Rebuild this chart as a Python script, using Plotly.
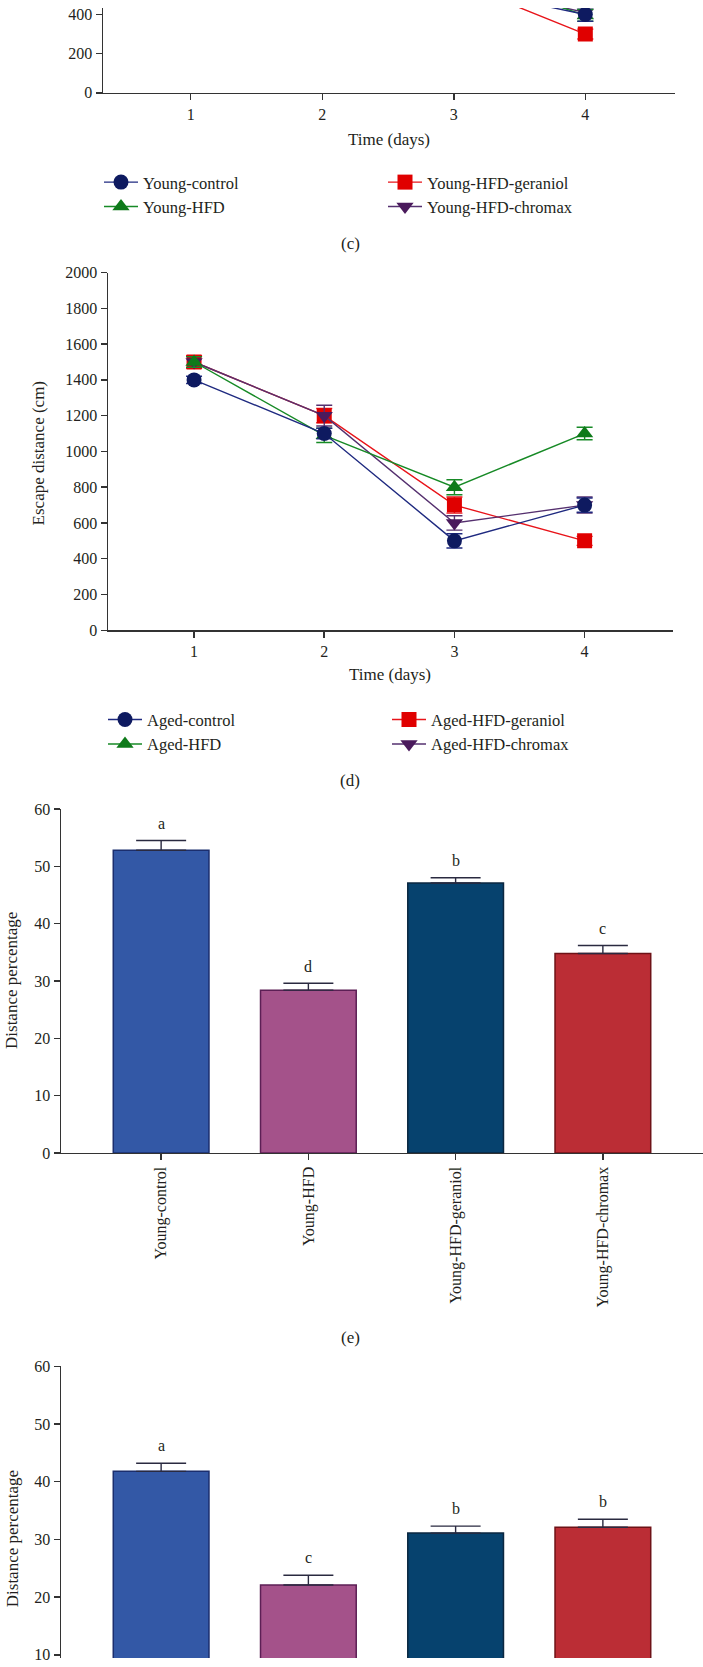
import plotly.graph_objects as go

# ---------------- data ----------------
days = [1, 2, 3, 4]

# panel (c) - young groups (escape distance, cm); only the day-4 end is visible
c_control = [1300, 1000, 540, 400]
c_control_err = [40, 40, 40, 35]
c_hfd = [1500, 1150, 620, 395]
c_hfd_err = [40, 40, 40, 30]
c_geraniol = [1450, 1100, 570, 300]
c_geraniol_err = [40, 40, 40, 25]
c_chromax = [1400, 1050, 560, 410]
c_chromax_err = [40, 40, 40, 30]

# panel (d) - aged groups
d_control = [1400, 1100, 500, 700]
d_control_err = [20, 30, 40, 40]
d_hfd = [1500, 1090, 800, 1100]
d_hfd_err = [30, 40, 42, 35]
d_geraniol = [1500, 1200, 700, 500]
d_geraniol_err = [35, 40, 45, 25]
d_chromax = [1500, 1200, 600, 700]
d_chromax_err = [30, 58, 40, 45]

# panel (e) - young groups distance percentage
e_cats = ["Young-control", "Young-HFD", "Young-HFD-geraniol", "Young-HFD-chromax"]
e_vals = [52.8, 28.4, 47.1, 34.8]
e_err = [1.7, 1.2, 0.9, 1.4]
e_letters = ["a", "d", "b", "c"]

# panel (f) - aged groups distance percentage
f_cats = ["Aged-control", "Aged-HFD", "Aged-HFD-geraniol", "Aged-HFD-chromax"]
f_vals = [41.8, 22.1, 31.1, 32.1]
f_err = [1.4, 1.7, 1.2, 1.4]
f_letters = ["a", "c", "b", "b"]

# ---------------- styles ----------------
FONT = "Liberation Serif"
TXT = "#231f20"
AX = "#333333"
W, H = 703, 1667

def py(page_y):
    return 1 - page_y / H

def px(page_x):
    return page_x / W

line_groups = [
    # key, marker symbol, marker colour, line colour, legendrank
    ("geraniol", "square", "#e00000", "#e8141a", 2),
    ("chromax", "triangle-down", "#4a1a5c", "#55306f", 4),
    ("hfd", "triangle-up", "#0e7a1a", "#178a26", 3),
    ("control", "circle", "#0e1a60", "#1f2a80", 1),
]
msize = {"circle": 15, "square": 15, "triangle-up": 15, "triangle-down": 15}

c_series = {
    "control": ("Young-control", c_control, c_control_err),
    "hfd": ("Young-HFD", c_hfd, c_hfd_err),
    "geraniol": ("Young-HFD-geraniol", c_geraniol, c_geraniol_err),
    "chromax": ("Young-HFD-chromax", c_chromax, c_chromax_err),
}
d_series = {
    "control": ("Aged-control", d_control, d_control_err),
    "hfd": ("Aged-HFD", d_hfd, d_hfd_err),
    "geraniol": ("Aged-HFD-geraniol", d_geraniol, d_geraniol_err),
    "chromax": ("Aged-HFD-chromax", d_chromax, d_chromax_err),
}

fig = go.Figure()

for series, xa, ya, leg in [(c_series, "x", "y", "legend"), (d_series, "x2", "y2", "legend2")]:
    for key, sym, mcol, lcol, rank in line_groups:
        name, vals, err = series[key]
        fig.add_trace(go.Scatter(
            x=days, y=vals, name=name, mode="lines+markers",
            xaxis=xa, yaxis=ya, legend=leg, legendrank=rank,
            line=dict(color=lcol, width=1.4),
            marker=dict(symbol=sym, size=msize[sym], color=mcol, line=dict(width=0)),
            error_y=dict(type="data", array=err, visible=True, color=lcol,
                         thickness=1.4, width=8),
        ))

bar_fill = ["#3358a6", "#a4528a", "#06426e", "#bb2d35"]
bar_edge = ["#1b2e6e", "#5c1f55", "#0b2740", "#6e1217"]

for cats, vals, err, xa, ya in [(e_cats, e_vals, e_err, "x3", "y3"),
                                (f_cats, f_vals, f_err, "x4", "y4")]:
    fig.add_trace(go.Bar(
        x=cats, y=vals, xaxis=xa, yaxis=ya, width=0.65, showlegend=False,
        marker=dict(color=bar_fill, line=dict(color=bar_edge, width=1.5)),
        error_y=dict(type="data", array=err, arrayminus=[0] * len(err),
                     symmetric=False, visible=True, color="#2a2a40",
                     thickness=1.4, width=25),
    ))

annotations = []
for cats, vals, err, letters, xr, yr in [(e_cats, e_vals, e_err, e_letters, "x3", "y3"),
                                         (f_cats, f_vals, f_err, f_letters, "x4", "y4")]:
    for c, v, e, l in zip(cats, vals, err, letters):
        annotations.append(dict(x=c, y=v + e + 3.0, xref=xr, yref=yr, text=l,
                                showarrow=False, yanchor="middle",
                                font=dict(family=FONT, size=16, color=TXT)))

def ann(text, x, y, angle=0, size=17):
    annotations.append(dict(x=px(x), y=py(y), xref="paper", yref="paper", text=text,
                            showarrow=False, xanchor="center", yanchor="middle",
                            textangle=angle, font=dict(family=FONT, size=size, color=TXT)))

ann("Time (days)", 388.5, 132.7)
ann("(c)", 350, 238.3)
ann("Escape distance (cm)", 38, 450, angle=-90)
ann("Time (days)", 390, 673.3)
ann("(d)", 350, 780)
ann("Distance percentage", 12, 983, angle=-90)
ann("(e)", 350, 1342.7)
ann("Distance percentage", 12, 1547, angle=-90)

tickfont = dict(family=FONT, size=16, color=TXT)
axcommon = dict(showgrid=False, zeroline=False, showline=True, linecolor=AX, linewidth=1.5,
                ticks="outside", ticklen=6, tickwidth=1.5, tickcolor=AX, tickfont=tickfont)

legfont = dict(family=FONT, size=16.5, color=TXT)

fig.update_layout(
    width=W, height=H, margin=dict(l=0, r=0, t=0, b=0),
    paper_bgcolor="white", plot_bgcolor="white",
    font=dict(family=FONT, size=16, color=TXT),
    hovermode=False,
    xaxis=dict(domain=[px(103), px(674.5)], range=[0.333, 4.678], anchor="y",
               tickvals=days, **axcommon),
    yaxis=dict(domain=[py(85.7), 1.0], range=[0, 433], anchor="x",
               tickvals=[0, 200, 400], **axcommon),
    xaxis2=dict(domain=[px(108), px(672.5)], range=[0.339, 4.675], anchor="y2",
                tickvals=days, **axcommon),
    yaxis2=dict(domain=[py(628.7), py(267.3)], range=[0, 2000], anchor="x2",
                tickvals=list(range(0, 2001, 200)), **axcommon),
    xaxis3=dict(domain=[px(61), 1.0], range=[-0.68, 3.68], anchor="y3",
                type="category", tickangle=-90, **axcommon),
    yaxis3=dict(domain=[py(1156.7), py(809.3)], range=[0, 60], anchor="x3",
                tickvals=list(range(0, 61, 10)), **axcommon),
    xaxis4=dict(domain=[px(61), 1.0], range=[-0.68, 3.68], anchor="y4",
                type="category", showline=False, showticklabels=False, ticks="",
                showgrid=False, zeroline=False),
    yaxis4=dict(domain=[0.0, py(1372.3)], range=[9.45, 60], anchor="x4",
                tickvals=list(range(10, 61, 10)), **axcommon),
    legend=dict(orientation="h", x=px(99), y=py(158.5), xanchor="left", yanchor="top",
                entrywidth=235, itemwidth=34, font=legfont,
                bgcolor="rgba(0,0,0,0)", traceorder="normal"),
    legend2=dict(orientation="h", x=px(103), y=py(701.5), xanchor="left", yanchor="top",
                 entrywidth=235, itemwidth=34, font=legfont,
                 bgcolor="rgba(0,0,0,0)", traceorder="normal"),
    annotations=annotations,
)

fig.write_html("out.html",
               config={"displayModeBar": False, "staticPlot": True},
               post_script="document.body.style.margin='0px';document.body.style.overflow='hidden';")
